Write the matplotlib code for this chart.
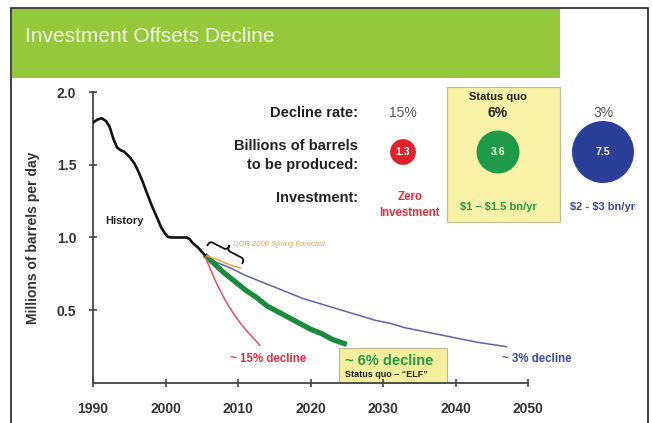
import numpy as np
import matplotlib
matplotlib.use("Agg")
import matplotlib.pyplot as plt
from matplotlib.patches import Rectangle, Circle, PathPatch
from matplotlib.path import Path

plt.rcParams['font.family'] = ['Liberation Sans', 'DejaVu Sans']

# === DATA ===
hist_years = [1990, 1990.6, 1991.2, 1991.8, 1992.3, 1992.8, 1993.3, 1993.8, 1994.3,
              1995.1, 1995.7, 1996.2, 1996.8, 1997.4, 1998.1, 1998.8, 1999.4,
              1999.9, 2000.3, 2000.8, 2002.9, 2003.3, 2003.7, 2004.5, 2005.4]
hist_vals = [1.79, 1.81, 1.82, 1.80, 1.76, 1.68, 1.62, 1.60, 1.59,
             1.55, 1.51, 1.46, 1.39, 1.31, 1.22, 1.14, 1.07,
             1.03, 1.005, 1.00, 1.00, 0.99, 0.965, 0.93, 0.88]

red_years = [2005.4, 2005.8, 2006.3, 2006.8, 2007.4, 2008, 2008.7, 2009.4,
             2010.2, 2011, 2011.9, 2013]
red_vals = [0.88, 0.83, 0.77, 0.71, 0.65, 0.59, 0.53, 0.475,
            0.42, 0.37, 0.32, 0.26]

green_years = [2005.4, 2006.5, 2008, 2009.5, 2011, 2012.5, 2014, 2015.5, 2017,
               2018.5, 2020, 2021.5, 2023, 2025]
green_vals = [0.88, 0.83, 0.76, 0.70, 0.64, 0.59, 0.53, 0.49, 0.45,
              0.41, 0.37, 0.34, 0.30, 0.265]

blue_years = [2005.4, 2007, 2009, 2011, 2013, 2015, 2017, 2019, 2021, 2023, 2025,
              2027, 2029, 2031, 2033, 2035, 2037, 2039, 2041, 2043, 2045, 2047]
blue_vals = [0.88, 0.83, 0.79, 0.74, 0.70, 0.66, 0.62, 0.58, 0.55, 0.52, 0.49,
             0.46, 0.43, 0.41, 0.38, 0.36, 0.34, 0.32, 0.30, 0.28, 0.265, 0.25]

dor_years = [2005.4, 2007, 2009, 2010.3]
dor_vals = [0.88, 0.85, 0.81, 0.79]

decline_rates = ["15%", "6%", "3%"]
barrels_bn = [1.3, 3.6, 7.5]
investments = ["Zero\nInvestment", "\\$1 \u2013 \\$1.5 bn/yr", "\\$2 - \\$3 bn/yr"]
col_colors = ["#e0202a", "#1f9a48", "#2c3f98"]
text_colors = ["#e0303a", "#1f9a48", "#3a4aa0"]

W, H = 652, 423
fig = plt.figure(figsize=(W / 100, H / 100), dpi=100)


def fx(x):
    return x / W


def fy(y):
    return 1 - y / H


def curly_brace(p0, p1, h):
    # brace between two pixel points (y down), tip pointing "up" by h pixels
    a = np.array([p0[0], H - p0[1]], float)
    b = np.array([p1[0], H - p1[1]], float)
    d = b - a
    n = np.array([-d[1], d[0]]) / np.hypot(*d)
    local = [(0, 0), (0, 0.5), (0.08, 0.5), (0.42, 0.5), (0.5, 0.5), (0.5, 1.0),
             (0.5, 0.5), (0.58, 0.5), (0.92, 0.5), (1, 0.5), (1, 0)]
    codes = [Path.MOVETO, Path.CURVE3, Path.CURVE3, Path.LINETO, Path.CURVE3,
             Path.CURVE3, Path.CURVE3, Path.CURVE3, Path.LINETO, Path.CURVE3,
             Path.CURVE3]
    verts = [(a + u * d + v * h * n) / 100 for u, v in local]
    return PathPatch(Path(verts, codes), transform=fig.dpi_scale_trans,
                     fill=False, lw=1.3, ec="#111111")


# frame and title band
fig.add_artist(Rectangle((fx(11), fy(425)), fx(648) - fx(11), fy(8) - fy(425),
                         transform=fig.transFigure, fill=False, lw=1.2, ec="#222222"))
fig.add_artist(Rectangle((fx(12), fy(78)), fx(560) - fx(12), fy(9) - fy(78),
                         transform=fig.transFigure, fc="#96c83c", ec="none"))
fig.text(fx(25), fy(42), "Investment Offsets Decline", color="#eef6e2",
         fontsize=15, ha="left", va="baseline")

# axes
ax = fig.add_axes([fx(93), fy(383), fx(528) - fx(93), fy(92) - fy(383)])
ax.set_xlim(1990, 2050)
ax.set_ylim(0, 2.0)
ax.set_xticks(range(1990, 2051, 10))
ax.set_yticks([0.5, 1.0, 1.5, 2.0])
ax.set_yticklabels(["0.5", "1.0", "1.5", "2.0"])
for s in ["top", "right"]:
    ax.spines[s].set_visible(False)
for s in ["left", "bottom"]:
    ax.spines[s].set_color("#444444")
    ax.spines[s].set_linewidth(1.3)
ax.tick_params(direction="inout", length=6, width=1.2, color="#444444",
               labelsize=10, labelcolor="#333333", pad=9)
ax.tick_params(axis="x", pad=11)
for lab in ax.get_xticklabels() + ax.get_yticklabels():
    lab.set_fontweight("bold")
ax.set_ylabel("Millions of barrels per day", fontsize=10, fontweight="bold",
              color="#333333", labelpad=12)
ax.patch.set_alpha(0)

ax.plot(blue_years, blue_vals, color="#5a64aa", lw=1.1, zorder=3,
        solid_joinstyle="round")
ax.plot(green_years, green_vals, color="#1a8a3c", lw=3.8, zorder=4,
        solid_capstyle="butt", solid_joinstyle="round")
ax.plot(red_years, red_vals, color="#e8505e", lw=1.1, zorder=5,
        solid_joinstyle="round")
ax.plot(dor_years, dor_vals, color="#f0a040", lw=1.1, zorder=5)
ax.plot(hist_years, hist_vals, color="#111111", lw=1.9, zorder=6,
        solid_joinstyle="round")

ax.text(1991.7, 1.11, "History", fontsize=8, fontweight="bold", color="#222222",
        ha="left", va="center")
ax.text(2009.3, 0.955, "DOR 2006 Spring Forecast", fontsize=5.5, style="italic",
        color="#f0a040", ha="left", va="center")
fig.add_artist(curly_brace((207, 246), (242, 264), 11))

ax.text(2014.1, 0.165, "~ 15% decline", fontsize=8.3, fontweight="bold",
        color=text_colors[0], ha="center", va="center")
ax.add_patch(Rectangle((2023.9, 0.0), 14.9, 0.24, fc="#f5ef9c", ec="#b8b890",
                       lw=0.8, zorder=1, clip_on=False))
ax.text(2024.8, 0.15, "~ 6% decline", fontsize=10.5, fontweight="bold",
        color=text_colors[1], ha="left", va="center", zorder=2)
ax.text(2024.8, 0.055, "Status quo \u2013 \u201cELF\u201d", fontsize=6.5,
        fontweight="bold", color="#222222", ha="left", va="center", zorder=2)
ax.text(2046.4, 0.165, "~ 3% decline", fontsize=8.3, fontweight="bold",
        color=text_colors[2], ha="left", va="center")

# table of scenarios
fig.add_artist(Rectangle((fx(447), fy(222)), fx(560) - fx(447), fy(87) - fy(222),
                         transform=fig.transFigure, fc="#f8f1a6", ec="#c0bb90", lw=0.8))
row_kw = dict(fontsize=10.5, fontweight="bold", color="#222222", ha="right", va="center")
fig.text(fx(358), fy(113), "Decline rate:", **row_kw)
fig.text(fx(358), fy(146), "Billions of barrels", **row_kw)
fig.text(fx(358), fy(165), "to be produced:", **row_kw)
fig.text(fx(358), fy(198), "Investment:", **row_kw)

col_x = [403, 498, 603]
k = 31 / np.sqrt(max(barrels_bn))
for i, (cx, rate, bn, inv) in enumerate(zip(col_x, decline_rates, barrels_bn, investments)):
    if i == 1:
        fig.text(fx(cx), fy(97), "Status quo", fontsize=8, fontweight="bold",
                 color="#222222", ha="center", va="center")
        fig.text(fx(cx), fy(113), rate, fontsize=10, fontweight="bold",
                 color="#222222", ha="center", va="center")
    else:
        fig.text(fx(cx), fy(113), rate, fontsize=10, color="#555555",
                 ha="center", va="center")
    r = k * np.sqrt(bn)
    fig.add_artist(Circle((cx / 100, (H - 152) / 100), r / 100,
                          transform=fig.dpi_scale_trans, fc=col_colors[i], ec="none"))
    fig.text(fx(cx), fy(152), f"{bn:.1f}", fontsize=7.5, fontweight="bold",
             color="white", ha="center", va="center")
    if i == 0:
        fig.text(fx(410), fy(205), inv, fontsize=8.3, fontweight="bold",
                 color=text_colors[i], ha="center", va="center", linespacing=1.35)
    else:
        fig.text(fx(cx), fy(207), inv, fontsize=8, fontweight="bold",
                 color=text_colors[i], ha="center", va="center")

fig.savefig("out.png", dpi=100)
